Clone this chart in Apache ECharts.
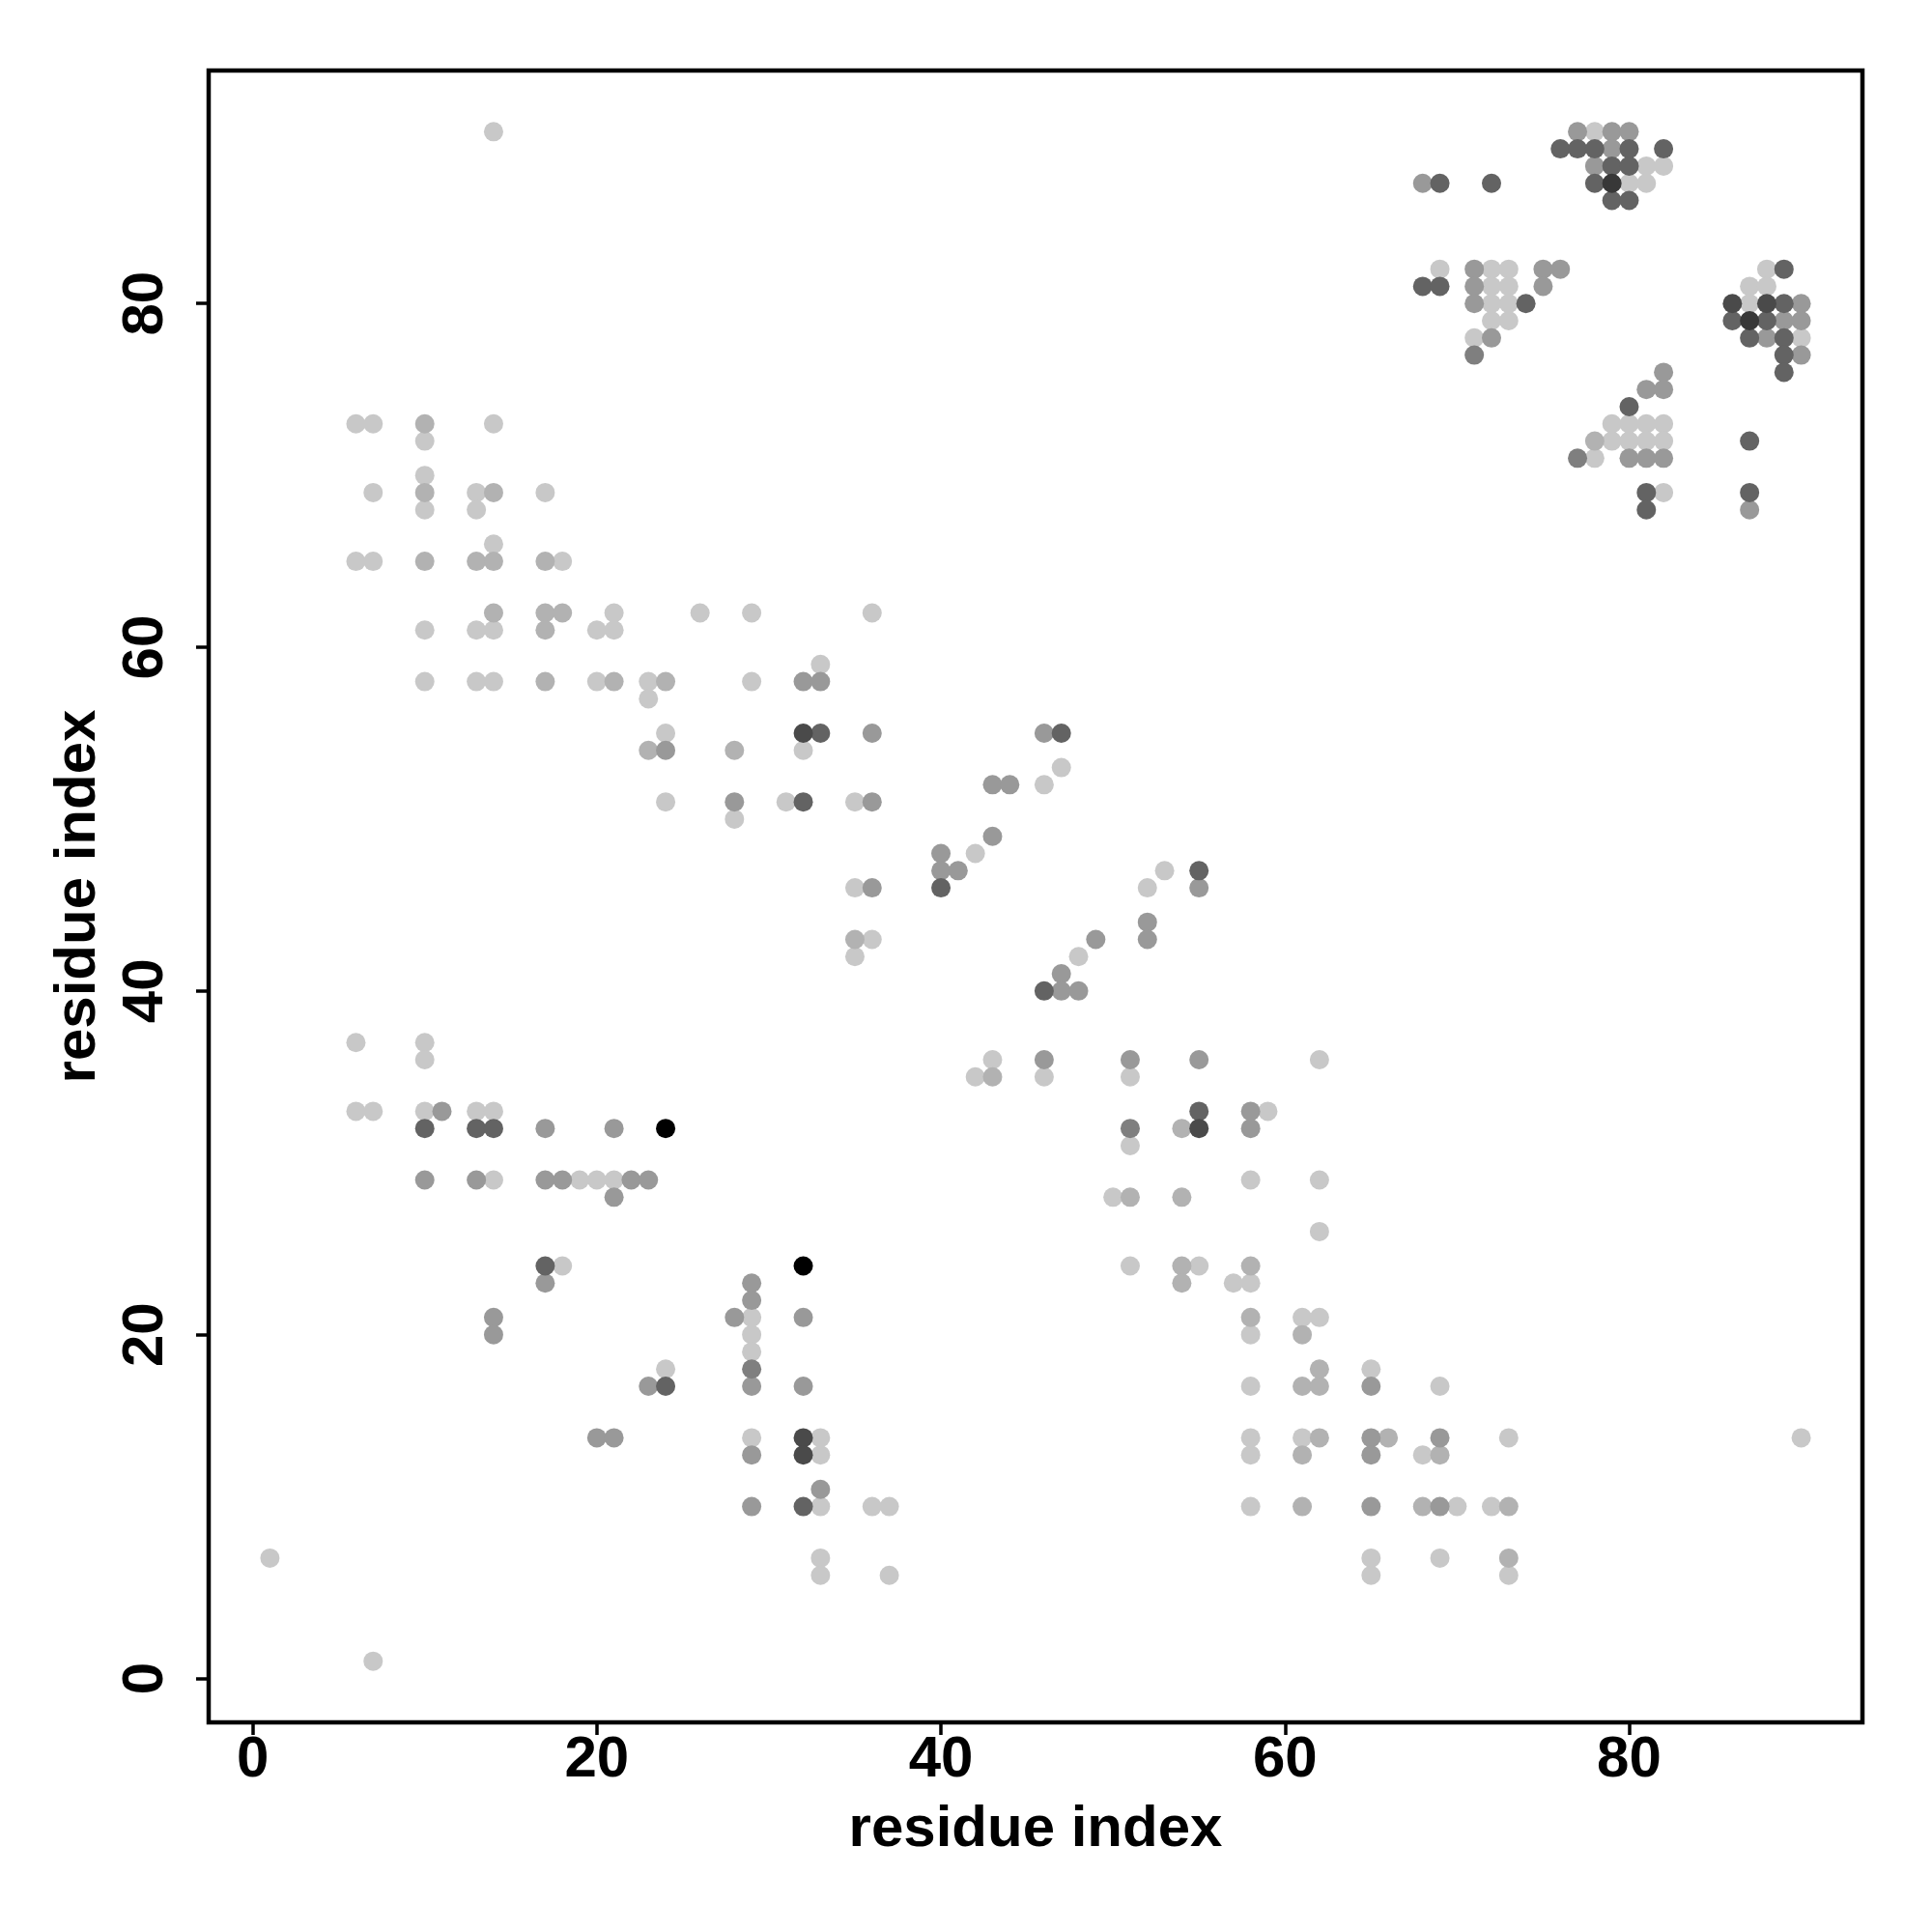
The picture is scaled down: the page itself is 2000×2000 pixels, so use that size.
<!DOCTYPE html>
<html>
<head>
<meta charset="utf-8">
<script src="https://cdn.jsdelivr.net/npm/echarts@6/dist/echarts.min.js"></script>
<style>html,body{margin:0;padding:0;background:#fff;}#chart{width:2000px;height:2000px;}</style>
</head>
<body>
<div id="chart"></div>
<script>
// Contact points [x, y] grouped by grey shade (light -> black)
const lightPts = [
  [14,90],[78,90],[81,88],[82,88],[80,87],[81,87],
  [69,82],[72,82],[73,82],[88,82],[72,81],[73,81],[87,81],[88,81],
  [72,80],[73,80],[87,80],[72,79],[73,79],[71,78],[90,78],
  [79,73],[80,73],[81,73],[82,73],[79,72],[80,72],[81,72],[82,72],[78,71],[82,69],
  [6,73],[7,73],[14,73],[10,72],[10,70],[7,69],[13,69],[17,69],[10,68],[13,68],[14,66],
  [6,65],[7,65],[18,65],[21,62],[26,62],[29,62],[36,62],
  [10,61],[13,61],[14,61],[20,61],[21,61],[33,59],
  [10,58],[13,58],[14,58],[20,58],[23,58],[29,58],[23,57],[24,55],[32,54],[47,53],[46,52],
  [24,51],[31,51],[35,51],[28,50],[42,48],[53,47],[35,46],[52,46],[36,43],[35,42],[48,42],
  [6,37],[10,37],[10,36],[43,36],[62,36],[42,35],[46,35],[51,35],
  [6,33],[7,33],[10,33],[13,33],[14,33],[59,33],[51,31],
  [14,29],[19,29],[20,29],[21,29],[58,29],[62,29],[50,28],[62,26],
  [18,24],[51,24],[55,24],[57,23],[58,23],[29,21],[61,21],[62,21],[29,20],[58,20],[29,19],
  [24,18],[65,18],[58,17],[69,17],
  [33,14],[29,14],[58,14],[61,14],[73,14],[90,14],[33,13],[58,13],[68,13],
  [33,10],[36,10],[37,10],[58,10],[70,10],[72,10],
  [1,7],[33,7],[65,7],[69,7],[33,6],[37,6],[65,6],[73,6],[7,1]
];
const lightMidPts = [
  [78,72],[10,73],[10,69],[14,69],[10,65],[13,65],[14,65],[17,65],
  [14,62],[17,62],[18,62],[17,61],[17,58],[21,58],[24,58],[23,54],[28,54],[35,43],
  [43,35],[54,32],[51,28],[54,28],[54,24],[58,24],[54,23],[58,21],[61,20],
  [61,17],[62,17],[62,18],[62,14],[66,14],[61,13],[69,13],[61,10],[68,10],[73,10],[73,7]
];
const midPts = [
  [77,90],[79,90],[80,90],[79,89],[78,88],[68,87],
  [71,82],[75,82],[76,82],[71,81],[75,81],[71,80],[90,80],[89,79],[90,79],[72,78],[88,78],[90,77],
  [82,76],[81,75],[82,75],[80,71],[81,71],[82,71],[87,68],
  [24,54],[32,58],[33,58],[36,55],[46,55],[43,52],[44,52],[28,51],[36,51],[43,49],[40,48],
  [40,47],[41,47],[36,46],[55,46],[52,44],[49,43],[52,43],[47,41],[47,40],[48,40],
  [46,36],[51,36],[55,36],[11,33],[58,33],[17,32],[21,32],[58,32],
  [10,29],[13,29],[17,29],[18,29],[22,29],[23,29],[21,28],[17,23],[29,23],[29,22],
  [14,21],[28,21],[32,21],[14,20],[23,17],[29,17],[32,17],[65,17],
  [20,14],[21,14],[65,14],[69,14],[29,13],[65,13],[33,11],[29,10],[65,10],[69,10]
];
const midDarkPts = [[77,71],[71,77],[51,32],[29,18]];
const darkPts = [
  [76,89],[77,89],[78,89],[80,89],[82,89],[79,88],[80,88],[69,87],[72,87],[78,87],[79,86],[80,86],
  [89,82],[68,81],[69,81],[74,80],[89,80],[86,79],[88,79],[87,78],[89,78],[89,77],[89,76],
  [80,74],[87,72],[81,69],[87,69],[81,68],
  [33,55],[47,55],[32,51],[55,47],[40,46],[46,40],[55,33],[10,32],[13,32],[14,32],[17,24],[24,17],[32,10]
];
const veryDarkPts = [[86,80],[88,80],[32,55],[55,32],[32,14],[32,13]];
const nearBlackPts = [[79,87],[87,79]];
const blackPts = [[24,32],[32,24]];

const tickValues = [0, 20, 40, 60, 80];
const axisTitle = 'residue index';

const groups = [
  {data: lightPts, color: '#c8c8c8'},
  {data: lightMidPts, color: '#b2b2b2'},
  {data: midPts, color: '#999999'},
  {data: midDarkPts, color: '#7f7f7f'},
  {data: darkPts, color: '#636363'},
  {data: veryDarkPts, color: '#4a4a4a'},
  {data: nearBlackPts, color: '#383838'},
  {data: blackPts, color: '#000000'}
];

const FONT = '"Liberation Sans", Arial, Helvetica, sans-serif';
const labelStyle = {color: '#000', fontSize: 60, fontWeight: 'bold', fontFamily: FONT};

const chart = echarts.init(document.getElementById('chart'), null, {renderer: 'canvas'});
chart.setOption({
  backgroundColor: '#fff',
  animation: false,
  grid: {left: 216, top: 73, width: 1712, height: 1710, show: true, borderColor: '#000', borderWidth: 4.5, backgroundColor: 'transparent'},
  xAxis: {
    type: 'value', min: -2.56, max: 93.56,
    axisLine: {show: false, onZero: false},
    splitLine: {show: false},
    axisTick: {show: true, inside: false, length: 13, lineStyle: {color: '#000', width: 3.5}, customValues: tickValues},
    axisLabel: Object.assign({margin: 9, customValues: tickValues, showMinLabel: true, showMaxLabel: true}, labelStyle),
    name: axisTitle, nameLocation: 'middle', nameGap: 81,
    nameTextStyle: labelStyle
  },
  yAxis: {
    type: 'value', min: -2.56, max: 93.56,
    axisLine: {show: false, onZero: false},
    splitLine: {show: false},
    axisTick: {show: true, inside: false, length: 13, lineStyle: {color: '#000', width: 3.5}, customValues: tickValues},
    axisLabel: Object.assign({margin: 35, rotate: 90, customValues: tickValues, showMinLabel: true, showMaxLabel: true}, labelStyle),
    name: axisTitle, nameLocation: 'middle', nameGap: 105, nameRotate: 90,
    nameTextStyle: labelStyle
  },
  series: groups.map(g => ({
    type: 'scatter',
    data: g.data,
    symbol: 'circle',
    symbolSize: 20,
    itemStyle: {color: g.color, opacity: 1},
    emphasis: {disabled: true}
  }))
});
</script>
</body>
</html>
